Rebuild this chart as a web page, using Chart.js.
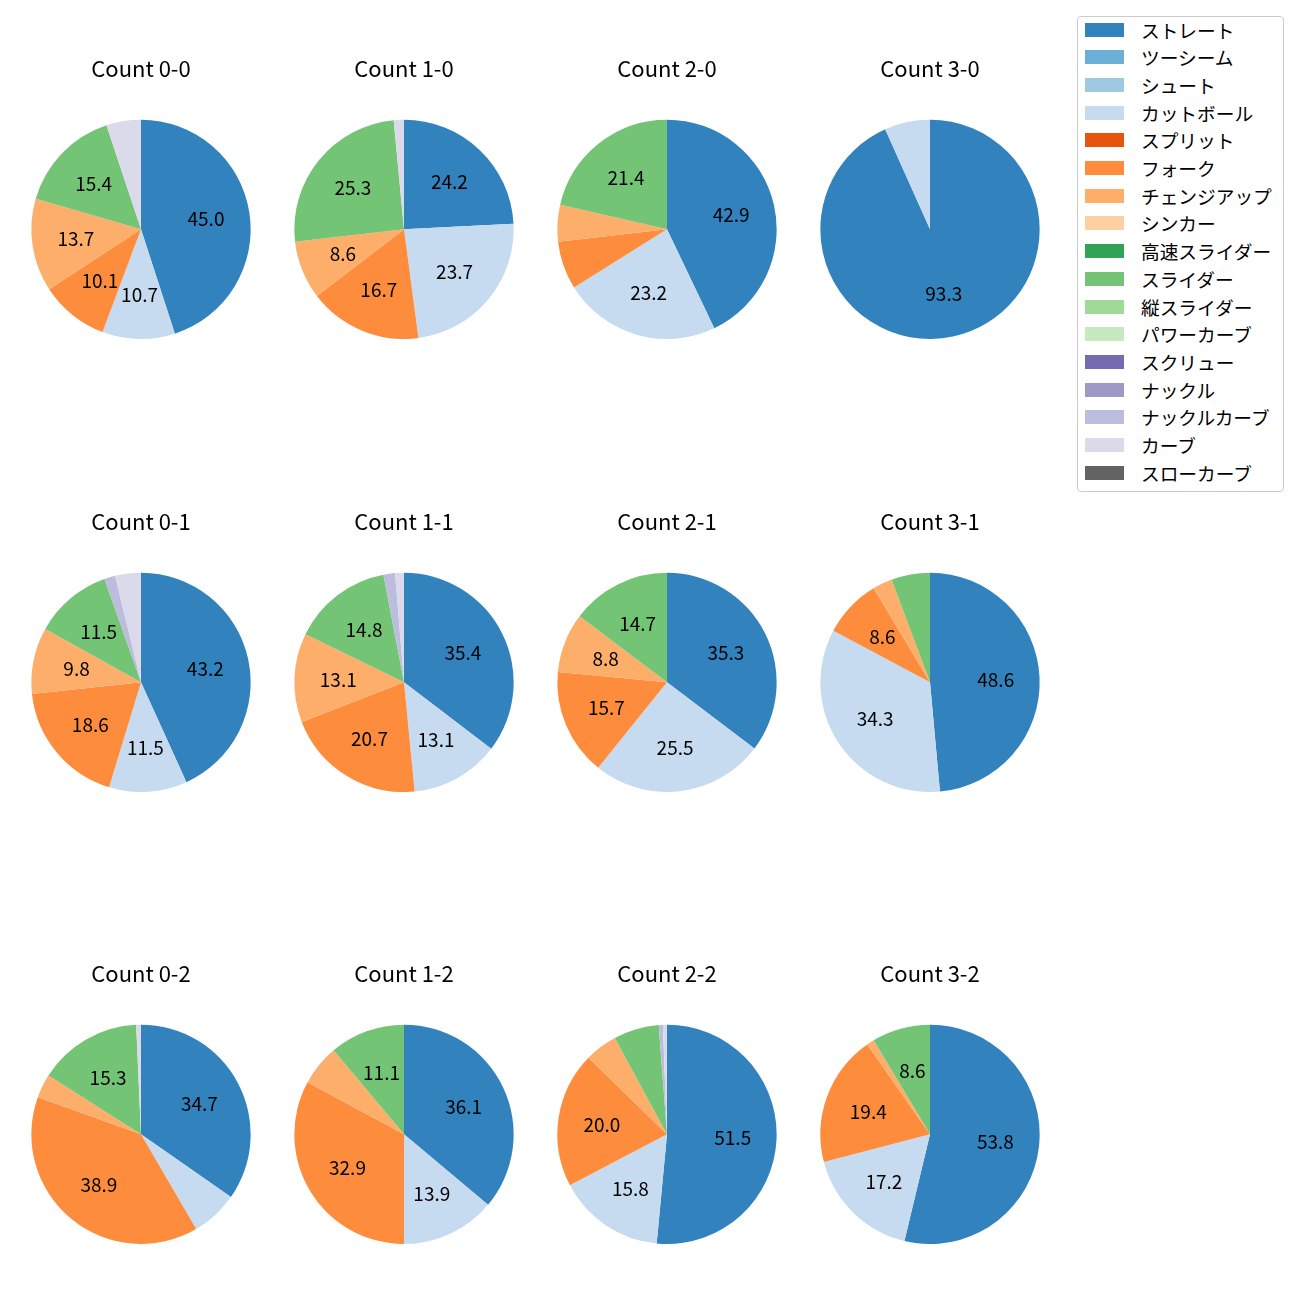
<!DOCTYPE html>
<html>
<head>
<meta charset="utf-8">
<script src="https://cdn.jsdelivr.net/npm/chart.js@4.4.1/dist/chart.umd.min.js"></script>
<style>
  html, body { margin: 0; padding: 0; background: #ffffff; }
  #stage { position: relative; width: 1300px; height: 1300px; background: #ffffff; font-family: "Noto Sans CJK JP", "Noto Sans", sans-serif; }
  .pie { position: absolute; }
  #legend { position: absolute; left: 1077px; top: 16px; width: 207px; height: 476px; border: 1px solid #cccccc; border-radius: 4px; background: #ffffff; box-sizing: border-box; }
  .lg-row { position: absolute; left: 0; height: 20px; }
  .lg-patch { position: absolute; left: 7px; top: 3px; width: 39px; height: 14px; }
  .lg-text { position: absolute; left: 63px; top: -3px; font-size: 18.7px; line-height: 26px; white-space: nowrap; color: #000; }
</style>
</head>
<body>
<div id="stage"></div>
<script>
// ---- data ----
const pitchTypes = ["ストレート","ツーシーム","シュート","カットボール","スプリット","フォーク","チェンジアップ","シンカー","高速スライダー","スライダー","縦スライダー","パワーカーブ","スクリュー","ナックル","ナックルカーブ","カーブ","スローカーブ"];
const pitchColors = ["#3182bd","#6baed6","#9ecae1","#c6dbef","#e6550d","#fd8d3c","#fdae6b","#fdd0a2","#31a354","#74c476","#a1d99b","#c7e9c0","#756bb1","#9e9ac8","#bcbddc","#dadaeb","#636363"];
const countTitles = ["Count 0-0","Count 1-0","Count 2-0","Count 3-0","Count 0-1","Count 1-1","Count 2-1","Count 3-1","Count 0-2","Count 1-2","Count 2-2","Count 3-2"];
//                 St   2S  Sh  Cut   Spl  Fork  Chg  Sink HSl  Sl   VSl PC  Scr Knu KCv  Cv  SCv
const count00 = [45.0, 0, 0, 10.7, 0, 10.1, 13.7, 0, 0, 15.4, 0, 0, 0, 0, 0,   5.1, 0];
const count10 = [24.2, 0, 0, 23.7, 0, 16.7,  8.6, 0, 0, 25.3, 0, 0, 0, 0, 0,   1.5, 0];
const count20 = [42.9, 0, 0, 23.2, 0,  7.1,  5.4, 0, 0, 21.4, 0, 0, 0, 0, 0,   0,   0];
const count30 = [93.3, 0, 0,  6.7, 0,  0,    0,   0, 0,  0,   0, 0, 0, 0, 0,   0,   0];
const count01 = [43.2, 0, 0, 11.5, 0, 18.6,  9.8, 0, 0, 11.5, 0, 0, 0, 0, 1.6, 3.8, 0];
const count11 = [35.4, 0, 0, 13.1, 0, 20.7, 13.1, 0, 0, 14.8, 0, 0, 0, 0, 1.7, 1.3, 0];
const count21 = [35.3, 0, 0, 25.5, 0, 15.7,  8.8, 0, 0, 14.7, 0, 0, 0, 0, 0,   0,   0];
const count31 = [48.6, 0, 0, 34.3, 0,  8.6,  2.9, 0, 0,  5.7, 0, 0, 0, 0, 0,   0,   0];
const count02 = [34.7, 0, 0,  6.9, 0, 38.9,  3.5, 0, 0, 15.3, 0, 0, 0, 0, 0,   0.7, 0];
const count12 = [36.1, 0, 0, 13.9, 0, 32.9,  6.0, 0, 0, 11.1, 0, 0, 0, 0, 0,   0,   0];
const count22 = [51.5, 0, 0, 15.8, 0, 20.0,  4.8, 0, 0,  6.7, 0, 0, 0, 0, 0.6, 0.6, 0];
const count32 = [53.8, 0, 0, 17.2, 0, 19.4,  1.1, 0, 0,  8.6, 0, 0, 0, 0, 0,   0,   0];
const countSeries = [count00,count10,count20,count30,count01,count11,count21,count31,count02,count12,count22,count32];
const labelThreshold = 8;

// ---- layout ----
const FONT = '"Noto Sans CJK JP", "Noto Sans", sans-serif';
const colCenters = [141, 404, 667, 930];
const rowCenters = [229, 682, 1134];
const R = 109.5;
const CW = 240;
const titleSize = 22, titleLH = 1.2;
const titleCenterOffset = 161; // title center above pie center
const labelSize = 19;

const pctLabels = {
  id: 'pctLabels',
  afterDatasetsDraw(chart) {
    const ctx = chart.ctx;
    const meta = chart.getDatasetMeta(0);
    const data = chart.data.datasets[0].data;
    ctx.save();
    ctx.font = labelSize + 'px ' + FONT;
    ctx.fillStyle = '#000000';
    ctx.textAlign = 'center';
    ctx.textBaseline = 'middle';
    meta.data.forEach((arc, i) => {
      const v = data[i];
      if (!v || v < labelThreshold) return;
      const p = arc.getProps(['x','y','startAngle','endAngle','outerRadius'], true);
      const mid = (p.startAngle + p.endAngle) / 2;
      const r = p.outerRadius * 0.6;
      ctx.fillText(v.toFixed(1), p.x + Math.cos(mid) * r, p.y + Math.sin(mid) * r);
    });
    ctx.restore();
  }
};

const stage = document.getElementById('stage');
countSeries.forEach((series, k) => {
  const col = k % 4, row = Math.floor(k / 4);
  const cx = colCenters[col], cy = rowCenters[row];
  const titleH = titleSize * titleLH;
  const top = cy - titleCenterOffset - titleH / 2;
  const areaH = 2 * R;
  const gap = (cy - R) - (top + titleH);
  const H = titleH + gap + areaH;
  const canvas = document.createElement('canvas');
  canvas.className = 'pie';
  canvas.width = CW; canvas.height = Math.round(H);
  canvas.style.left = (cx - CW / 2) + 'px';
  canvas.style.top = top + 'px';
  canvas.style.width = CW + 'px';
  canvas.style.height = Math.round(H) + 'px';
  stage.appendChild(canvas);
  new Chart(canvas, {
    type: 'pie',
    data: {
      labels: pitchTypes,
      datasets: [{ data: series, backgroundColor: pitchColors, borderWidth: 0 }]
    },
    options: {
      responsive: false,
      maintainAspectRatio: false,
      animation: false,
      layout: { padding: 0 },
      plugins: {
        legend: { display: false },
        tooltip: { enabled: false },
        title: {
          display: true,
          text: countTitles[k],
          color: '#000000',
          font: { family: FONT, size: titleSize, weight: 'normal', lineHeight: titleLH },
          padding: { top: 0, bottom: gap }
        }
      }
    },
    plugins: [pctLabels]
  });
});

// legend
const legend = document.createElement('div');
legend.id = 'legend';
stage.appendChild(legend);
pitchTypes.forEach((name, i) => {
  const row = document.createElement('div');
  row.className = 'lg-row';
  row.style.top = (2.5 + i * 27.7) + 'px';
  const patch = document.createElement('div');
  patch.className = 'lg-patch';
  patch.style.background = pitchColors[i];
  const txt = document.createElement('div');
  txt.className = 'lg-text';
  txt.textContent = name;
  row.appendChild(patch); row.appendChild(txt);
  legend.appendChild(row);
});
</script>
</body>
</html>
